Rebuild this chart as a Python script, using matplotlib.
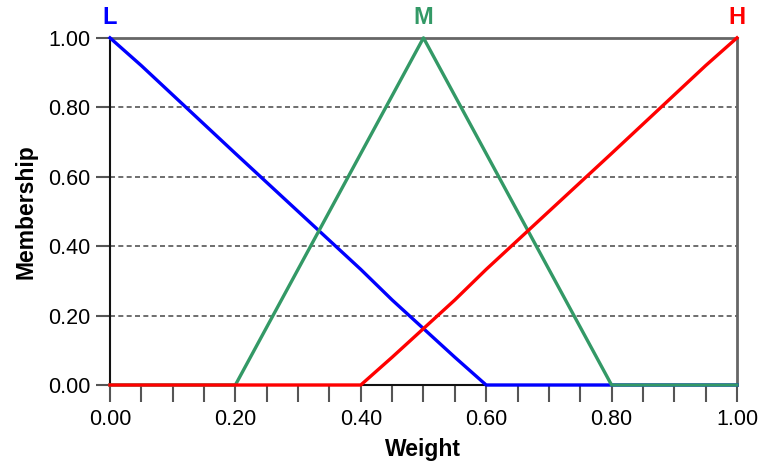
import numpy as np
import matplotlib.pyplot as plt
from matplotlib.ticker import MultipleLocator, FormatStrFormatter

plt.rcParams['font.family'] = ['Liberation Sans', 'DejaVu Sans']

# membership function vertices
low_x = [0.0, 0.05, 0.20, 0.40, 0.45, 0.55, 0.60, 1.00]
low_y = [1.0, 0.92, 0.667, 0.333, 0.245, 0.08, 0.0, 0.0]
mid_x = [0.0, 0.20, 0.50, 0.80, 1.00]
mid_y = [0.0, 0.0, 1.0, 0.0, 0.0]
high_x = [0.0, 0.40, 0.45, 0.55, 0.60, 0.80, 0.95, 1.00]
high_y = [0.0, 0.0, 0.08, 0.245, 0.333, 0.667, 0.92, 1.0]

names = ['L', 'M', 'H']
peaks = [0.0, 0.5, 1.0]
colors = ['#0000ff', '#339966', '#ff0000']

fig = plt.figure(figsize=(7.6, 4.66), dpi=100)
ax = fig.add_axes([0.1447, 0.1738, 0.825, 0.745])

# dashed grid
for g in [0.2, 0.4, 0.6, 0.8]:
    ax.axhline(g, color='#555555', lw=1.2, ls=(0, (3, 2)), zorder=1)

series = [(low_x, low_y), (mid_x, mid_y), (high_x, high_y)]
for (xs, ys), c in zip(series, colors):
    ax.plot(xs, ys, color=c, lw=2.4, zorder=3, clip_on=False)

for n, p, c in zip(names, peaks, colors):
    ax.text(p, 1.025, n, color=c, fontsize=17, fontweight='bold',
            ha='center', va='bottom', transform=ax.transData)

ax.set_xlim(0, 1)
ax.set_ylim(0, 1)
ax.xaxis.set_major_locator(MultipleLocator(0.2))
ax.xaxis.set_minor_locator(MultipleLocator(0.05))
ax.yaxis.set_major_locator(MultipleLocator(0.2))
ax.xaxis.set_major_formatter(FormatStrFormatter('%.2f'))
ax.yaxis.set_major_formatter(FormatStrFormatter('%.2f'))

ax.tick_params(axis='x', which='both', direction='out', length=12, width=1.5,
               color='#555555', labelsize=15.5, pad=5)
ax.tick_params(axis='y', which='major', direction='out', length=10, width=1.5,
               color='#555555', labelsize=15.5, pad=4)

for s in ['left', 'bottom']:
    ax.spines[s].set_color('#111111')
    ax.spines[s].set_linewidth(1.5)
for s in ['top', 'right']:
    ax.spines[s].set_color('#666666')
    ax.spines[s].set_linewidth(2)

ax.set_xlabel('Weight', fontsize=16.5, fontweight='bold', labelpad=6)
ax.set_ylabel('Membership', fontsize=16.5, fontweight='bold', labelpad=8)

fig.savefig('out.png', dpi=100)
